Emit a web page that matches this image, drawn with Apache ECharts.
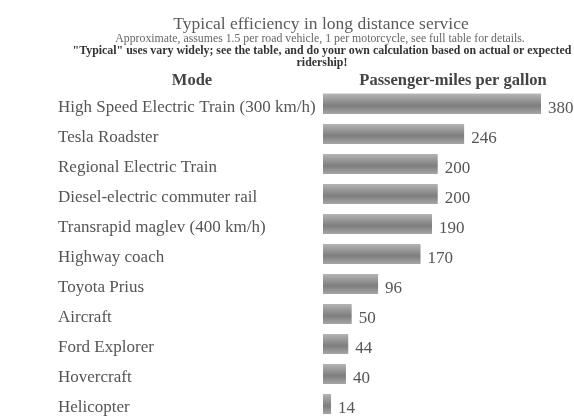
<!DOCTYPE html>
<html>
<head>
<meta charset="utf-8">
<script src="https://cdn.jsdelivr.net/npm/echarts@6/dist/echarts.min.js"></script>
<style>
  html, body { margin: 0; padding: 0; background: #fff; }
  #chart { width: 574px; height: 419px; }
</style>
</head>
<body>
<div id="chart"></div>
<script>
var modes = [
  'High Speed Electric Train (300 km/h)',
  'Tesla Roadster',
  'Regional Electric Train',
  'Diesel-electric commuter rail',
  'Transrapid maglev (400 km/h)',
  'Highway coach',
  'Toyota Prius',
  'Aircraft',
  'Ford Explorer',
  'Hovercraft',
  'Helicopter'
];
var mpg = [380, 246, 200, 200, 190, 170, 96, 50, 44, 40, 14];

var serif = '"Liberation Serif", "DejaVu Serif", serif';

var chart = echarts.init(document.getElementById('chart'));

// bar fill: light top, darker middle stripe
var barFill = new echarts.graphic.LinearGradient(0, 0, 0, 1, [
  { offset: 0, color: '#b4b4b4' },
  { offset: 0.45, color: '#8a8a8a' },
  { offset: 0.6, color: '#7e7e7e' },
  { offset: 1, color: '#a6a6a6' }
]);

chart.setOption({
  animation: false,
  title: [
    {
      text: 'Typical efficiency in long distance service',
      left: 316, top: 10, textAlign: 'center',
      textStyle: { fontFamily: serif, fontSize: 17.5, fontWeight: 'normal', color: '#5a5a5a' }
    },
    {
      text: 'Approximate, assumes 1.5 per road vehicle, 1 per motorcycle, see full table for details.',
      left: 315, top: 28, textAlign: 'center',
      textStyle: { fontFamily: serif, fontSize: 11.8, fontWeight: 'normal', color: '#666' }
    },
    {
      text: '"Typical" uses vary widely; see the table, and do your own calculation based on actual or expected\nridership!',
      left: 317, top: 40, textAlign: 'center',
      textStyle: { fontFamily: serif, fontSize: 11.9, fontWeight: 'bold', color: '#333', lineHeight: 12 }
    },
    {
      text: 'Mode',
      left: 187, top: 67, textAlign: 'center',
      textStyle: { fontFamily: serif, fontSize: 16.5, fontWeight: 'bold', color: '#444' }
    },
    {
      text: 'Passenger-miles per gallon',
      left: 448, top: 67, textAlign: 'center',
      textStyle: { fontFamily: serif, fontSize: 16.5, fontWeight: 'bold', color: '#444' }
    }
  ],
  grid: { left: 323, top: 89, width: 218, height: 334 },
  xAxis: {
    type: 'value',
    position: 'top',
    offset: -4,
    min: 0,
    max: 380,
    axisLine: { show: true, lineStyle: { color: '#dcdcdc', width: 1 } },
    axisTick: { show: false },
    axisLabel: { show: false },
    splitLine: { show: false }
  },
  yAxis: {
    type: 'category',
    data: modes,
    inverse: true,
    axisLine: { show: false },
    axisTick: { show: false },
    axisLabel: {
      align: 'left',
      margin: 265,
      formatter: function (v) { return '{m|' + v + '}'; },
      rich: {
        m: {
          fontFamily: serif,
          fontSize: 17,
          color: '#555',
          padding: [8, 0, 0, 0]
        }
      }
    }
  },
  series: [{
    type: 'bar',
    data: mpg,
    barWidth: 20,
    itemStyle: { color: barFill },
    label: {
      show: true,
      position: 'right',
      distance: 7,
      offset: [0, 5],
      fontFamily: serif,
      fontSize: 17,
      color: '#555'
    }
  }]
});
</script>
</body>
</html>
